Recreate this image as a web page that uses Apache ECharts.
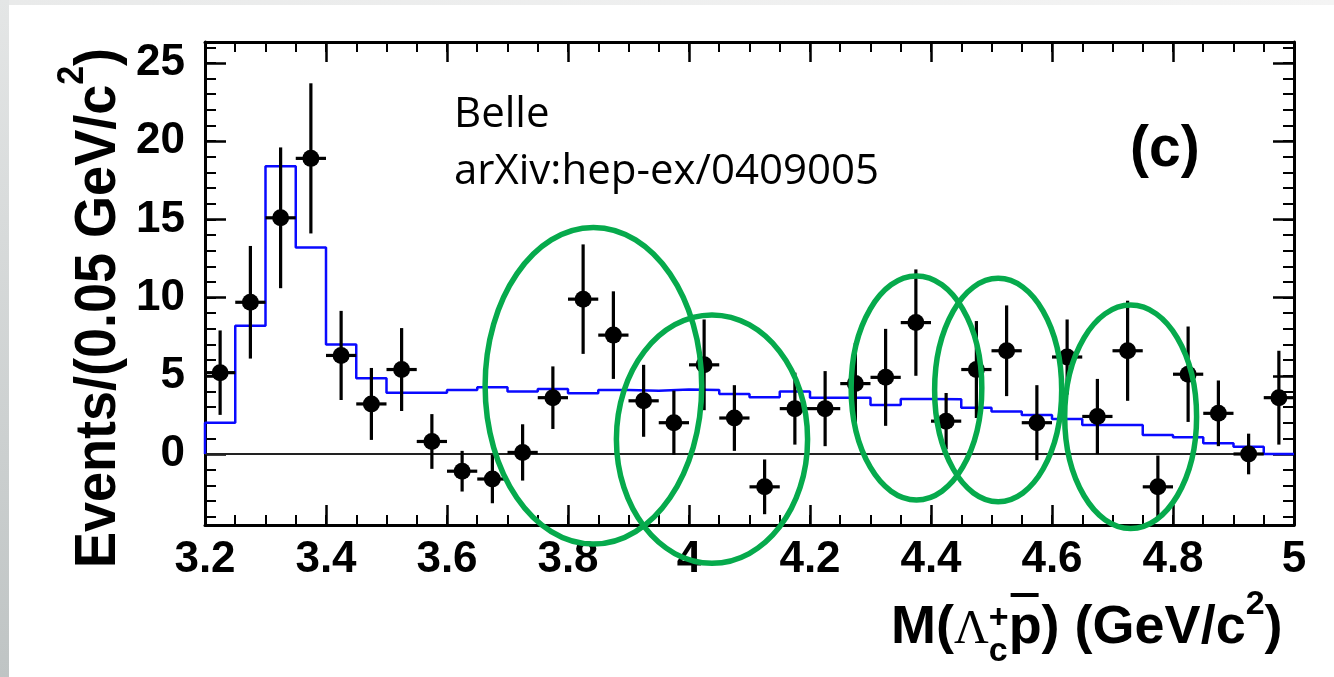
<!DOCTYPE html>
<html>
<head>
<meta charset="utf-8">
<script src="https://cdn.jsdelivr.net/npm/echarts@6/dist/echarts.min.js"></script>
<style>
  html, body { margin: 0; padding: 0; background: #ffffff; }
  #chart { width: 1334px; height: 677px; }
</style>
</head>
<body>
<div id="chart"></div>
<script>
// Lambda_c+ pbar invariant mass spectrum, 0.05 GeV/c^2 bins
const binCenters = [3.225, 3.275, 3.325, 3.375, 3.425, 3.475, 3.525, 3.575, 3.625, 3.675,
                    3.725, 3.775, 3.825, 3.875, 3.925, 3.975, 4.025, 4.075, 4.125, 4.175,
                    4.225, 4.275, 4.325, 4.375, 4.425, 4.475, 4.525, 4.575, 4.625, 4.675,
                    4.725, 4.775, 4.825, 4.875, 4.925, 4.975];
const binWidth = 0.05;

// background-subtracted yields and their uncertainties
const events = [5.2, 9.7, 15.1, 18.9, 6.3, 3.2, 5.4, 0.8, -1.1, -1.6,
                0.1, 3.6, 9.9, 7.6, 3.4, 2.0, 5.7, 2.3, -2.1, 2.9,
                2.9, 4.5, 4.9, 8.4, 2.1, 5.4, 6.6, 2.0, 6.2, 2.4,
                6.6, -2.1, 5.1, 2.6, 0.0, 3.6];
const eventErrors = [2.7, 3.6, 4.5, 4.8, 2.85, 2.3, 2.65, 1.75, 1.3, 1.55,
                     1.8, 2.0, 3.5, 2.8, 2.3, 2.05, 2.9, 2.1, 1.75, 2.3,
                     2.4, 2.6, 3.1, 3.4, 1.8, 3.1, 2.9, 2.4, 2.4, 2.4,
                     3.2, 2.0, 3.05, 2.1, 1.3, 3.0];

// expected distribution (histogram, same binning)
const fitContent = [2.0, 8.2, 18.4, 13.2, 7.0, 4.85, 3.92, 3.92, 4.09, 4.26,
                    3.99, 4.16, 3.88, 4.09, 4.05, 4.13, 4.09, 3.84, 3.62, 3.99,
                    3.6, 3.6, 3.13, 3.52, 3.5, 2.96, 2.71, 2.49, 2.24, 1.85,
                    1.85, 1.21, 1.07, 0.68, 0.47, 0.0];

// highlighted regions: [centre mass, centre events, half-width (GeV), half-height (events)]
const regions = [
  [3.842, 4.36, 0.179, 10.12],
  [4.038, 0.95, 0.158, 7.94],
  [4.376, 4.22, 0.108, 7.16],
  [4.511, 4.09, 0.105, 7.14],
  [4.730, 2.38, 0.109, 7.14]
];

// axis ranges and ticks
const xRange = [3.2, 5.0];
const yRange = [-4.54, 26.34];
const xMajorTicks = [3.2, 3.4, 3.6, 3.8, 4.0, 4.2, 4.4, 4.6, 4.8, 5.0];
const xMinorTicks = [3.2, 3.25, 3.3, 3.35, 3.4, 3.45, 3.5, 3.55, 3.6, 3.65, 3.7, 3.75, 3.8,
                     3.85, 3.9, 3.95, 4.0, 4.05, 4.1, 4.15, 4.2, 4.25, 4.3, 4.35, 4.4, 4.45,
                     4.5, 4.55, 4.6, 4.65, 4.7, 4.75, 4.8, 4.85, 4.9, 4.95, 5.0];
const yMajorTicks = [0, 5, 10, 15, 20, 25];
const yMinorTicks = [-4, -3, -2, -1, 0, 1, 2, 3, 4, 5, 6, 7, 8, 9, 10, 11, 12, 13, 14, 15,
                     16, 17, 18, 19, 20, 21, 22, 23, 24, 25, 26];

const BOLD = 'bold 54px "Liberation Sans", Arial, sans-serif';
const SUP = 'bold 34px "Liberation Sans", Arial, sans-serif';

// ---- text helpers: place pieces on a common baseline, measured with canvas ----
const measureCtx = document.createElement('canvas').getContext('2d');
function textMetrics(font, text) {
  measureCtx.font = font;
  measureCtx.textBaseline = 'alphabetic';
  const a = measureCtx.measureText(text);
  measureCtx.textBaseline = 'middle';
  const m = measureCtx.measureText(text);
  let drop;
  if (a.fontBoundingBoxAscent !== undefined && m.fontBoundingBoxAscent !== undefined) {
    drop = a.fontBoundingBoxAscent - m.fontBoundingBoxAscent;
  } else {
    drop = 0.35 * parseFloat(font.match(/(\d+(\.\d+)?)px/)[1]);
  }
  return { width: a.width, drop: drop };
}
function textEl(text, font, x, y) {
  return {
    type: 'text', x: x, y: y, silent: true,
    style: { text: text, font: font, fill: '#000',
             align: 'left', textAlign: 'left',
             verticalAlign: 'middle', textVerticalAlign: 'middle' }
  };
}
function layoutPieces(pieces, startX, baseline) {
  let cursor = startX;
  const els = [];
  pieces.forEach(function (p) {
    if (p.stack) {
      let w = 0;
      p.stack.forEach(function (s) {
        const m = textMetrics(s.font, s.text);
        w = Math.max(w, m.width);
        els.push(textEl(s.text, s.font, cursor, baseline + s.dy - m.drop));
      });
      cursor += w;
      return;
    }
    const m = textMetrics(p.font, p.text);
    els.push(textEl(p.text, p.font, cursor, baseline + (p.dy || 0) - m.drop));
    if (p.overline) {
      els.push({
        type: 'line', silent: true,
        shape: { x1: cursor + 2, y1: baseline - p.overline, x2: cursor + m.width - 3, y2: baseline - p.overline },
        style: { stroke: '#000', lineWidth: 4 }
      });
    }
    cursor += m.width;
  });
  return { els: els, width: cursor - startX };
}

// x-axis title: M(Λc+ p̄) (GeV/c²)
const xTitle = layoutPieces([
  { text: 'M(', font: BOLD },
  { text: 'Λ', font: '48px "Liberation Serif", "DejaVu Serif", serif' },
  { stack: [ { text: '+', font: SUP, dy: -15 }, { text: 'c', font: SUP, dy: 18 } ] },
  { text: 'p', font: BOLD, overline: 48 },
  { text: ') (GeV/c', font: BOLD },
  { text: '2', font: SUP, dy: -29 },
  { text: ')', font: BOLD }
], 891, 643);

// y-axis title: Events/(0.05 GeV/c²), laid out along the local x axis then rotated
const yPieces = [
  { text: 'Events/(0.05 GeV/c', font: BOLD },
  { text: '2', font: SUP, dy: -30 },
  { text: ')', font: BOLD }
];
const yProbe = layoutPieces(yPieces, 0, 0);
const yTitle = layoutPieces(yPieces, -yProbe.width / 2, 0);

// experiment tag, reference and panel label
const belleText = layoutPieces([{ text: 'Belle', font: '42px "Open Sans", sans-serif' }], 454, 127);
const arxivText = layoutPieces([{ text: 'arXiv:hep-ex/0409005', font: '42px "Open Sans", sans-serif' }], 454, 184);
const panelText = layoutPieces([{ text: '(c)', font: 'bold 57px "Liberation Sans", Arial, sans-serif' }], 1130, 166);

// step outline for the expected distribution
const fitOutline = [[binCenters[0] - binWidth / 2, 0]];
binCenters.forEach(function (c, i) {
  fitOutline.push([c - binWidth / 2, fitContent[i]]);
  fitOutline.push([c + binWidth / 2, fitContent[i]]);
});

const labelFont = { fontFamily: '"Liberation Sans", Arial, sans-serif', fontWeight: 'bold', fontSize: 44, color: '#000' };
const frameLine = { show: true, onZero: false, lineStyle: { color: '#000', width: 3 } };
const noLine = { show: false, onZero: false };

function xAxisDef(position, ticks, len, withLabels, withLine) {
  return {
    type: 'value', position: position, min: xRange[0], max: xRange[1],
    axisLine: withLine ? frameLine : noLine,
    axisTick: { show: true, inside: true, length: len, customValues: ticks,
                lineStyle: { color: '#000', width: len > 15 ? 2.5 : 2 } },
    axisLabel: withLabels ? Object.assign({ show: true, customValues: xMajorTicks, margin: 13,
                formatter: function (v) { return String(Math.round(v * 10) / 10); } }, labelFont)
                          : { show: false },
    splitLine: { show: false }, minorTick: { show: false }
  };
}
function yAxisDef(position, ticks, len, withLabels, withLine) {
  return {
    type: 'value', position: position, min: yRange[0], max: yRange[1],
    axisLine: withLine ? frameLine : noLine,
    axisTick: { show: true, inside: true, length: len, customValues: ticks,
                lineStyle: { color: '#000', width: len > 15 ? 2.5 : 2 } },
    axisLabel: withLabels ? Object.assign({ show: true, customValues: yMajorTicks, margin: 20,
                formatter: function (v) { return String(Math.round(v)); } }, labelFont)
                          : { show: false },
    splitLine: { show: false }, minorTick: { show: false }
  };
}

const chart = echarts.init(document.getElementById('chart'), null, { renderer: 'canvas' });
chart.setOption({
  animation: false,
  backgroundColor: '#ffffff',
  grid: { left: 205, right: 40, top: 42, bottom: 152, containLabel: false, outerBoundsMode: 'none' },
  xAxis: [
    xAxisDef('bottom', xMajorTicks, 20, true, true),
    xAxisDef('bottom', xMinorTicks, 10, false, false),
    xAxisDef('top', xMajorTicks, 20, false, true),
    xAxisDef('top', xMinorTicks, 10, false, false)
  ],
  yAxis: [
    yAxisDef('left', yMajorTicks, 21, true, true),
    yAxisDef('left', yMinorTicks, 11, false, false),
    yAxisDef('right', yMajorTicks, 21, false, true),
    yAxisDef('right', yMinorTicks, 11, false, false)
  ],
  graphic: [
    { type: 'rect', z: -10, silent: true, shape: { x: 0, y: 0, width: 9, height: 677 },
      style: { fill: new echarts.graphic.LinearGradient(0, 0, 0, 1, [
        { offset: 0, color: '#e4e6e6' }, { offset: 1, color: '#bfc4c4' }]) } },
    { type: 'rect', z: -10, silent: true, shape: { x: 9, y: 0, width: 1325, height: 5 },
      style: { fill: new echarts.graphic.LinearGradient(0, 0, 1, 0, [
        { offset: 0, color: '#e9eaea' }, { offset: 1, color: '#f4f4f4' }]) } },
    { type: 'group', children: xTitle.els },
    { type: 'group', x: 115, y: 308, rotation: Math.PI / 2, scaleY: 1.06, children: yTitle.els },
    { type: 'group', children: belleText.els.concat(arxivText.els, panelText.els) }
  ],
  series: [
    {
      name: 'zero', type: 'line', silent: true, symbol: 'none', z: 1,
      data: [[xRange[0], 0], [xRange[1], 0]],
      lineStyle: { color: '#222', width: 2 }
    },
    {
      name: 'expected', type: 'line', silent: true, symbol: 'none', z: 2,
      data: fitOutline,
      lineStyle: { color: '#0a0aff', width: 2.5 }
    },
    {
      name: 'data', type: 'custom', silent: true, z: 3, clip: false,
      data: binCenters.map(function (c, i) { return [c, events[i], eventErrors[i]]; }),
      encode: { x: 0, y: 1 },
      renderItem: function (params, api) {
        const x = api.value(0), y = api.value(1), e = api.value(2);
        const p = api.coord([x, y]);
        const hi = api.coord([x, y + e]);
        const lo = api.coord([x, y - e]);
        const l = api.coord([x - binWidth / 2, y]);
        const r = api.coord([x + binWidth / 2, y]);
        return {
          type: 'group',
          children: [
            { type: 'line', shape: { x1: p[0], y1: hi[1], x2: p[0], y2: lo[1] }, style: { stroke: '#000', lineWidth: 3.2 } },
            { type: 'line', shape: { x1: l[0], y1: p[1], x2: r[0], y2: p[1] }, style: { stroke: '#000', lineWidth: 3.2 } },
            { type: 'circle', shape: { cx: p[0], cy: p[1], r: 8.5 }, style: { fill: '#000' } }
          ]
        };
      }
    },
    {
      name: 'regions', type: 'custom', silent: true, z: 4, clip: false,
      data: regions,
      encode: { x: 0, y: 1 },
      renderItem: function (params, api) {
        const c = api.coord([api.value(0), api.value(1)]);
        const s = api.size([api.value(2), api.value(3)]);
        return {
          type: 'ellipse',
          shape: { cx: c[0], cy: c[1], rx: s[0], ry: s[1] },
          style: { fill: 'none', stroke: '#06aa4c', lineWidth: 5.5 }
        };
      }
    }
  ]
});
</script>
</body>
</html>
